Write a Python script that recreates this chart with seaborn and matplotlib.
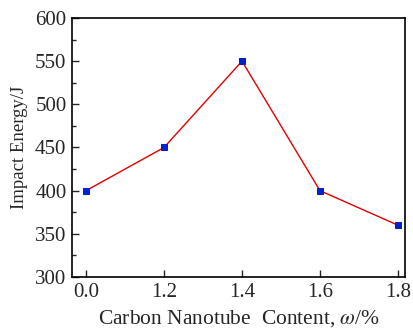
import matplotlib
matplotlib.use("Agg")
import matplotlib.pyplot as plt
from matplotlib.ticker import MultipleLocator
import seaborn as sns
import pandas as pd

categories = ["0.0", "1.2", "1.4", "1.6", "1.8"]
impact_energy = [400, 450, 550, 400, 360]

sns.set_style("ticks")
plt.rcParams['font.family'] = ['Liberation Serif', 'DejaVu Serif']
plt.rcParams['mathtext.fontset'] = 'stix'

df = pd.DataFrame({"pos": range(len(categories)), "energy": impact_energy})

fig = plt.figure(figsize=(4.14, 3.29), dpi=100)
ax = fig.add_axes([72/414, 1 - 277/329, (405-72)/414, (277-18)/329])
sns.lineplot(data=df, x="pos", y="energy", ax=ax, color="#e00000", linewidth=1.0,
             marker="s", markersize=5, markerfacecolor="#0022cc", markeredgecolor="#0022cc")
ax.set_xlim(-0.18, 4.09)
ax.set_ylim(300, 600)
ax.set_xticks(range(len(categories)))
ax.set_xticklabels(categories)
ax.yaxis.set_major_locator(MultipleLocator(50))
ax.yaxis.set_minor_locator(MultipleLocator(25))
ax.tick_params(which="both", direction="in", top=False, right=False, labelsize=15, pad=4)
ax.tick_params(which="major", length=5, width=1)
ax.tick_params(which="minor", length=3, width=1)
for s in ax.spines.values():
    s.set_linewidth(1.2)
    s.set_color("black")
ax.set_xlabel("Carbon Nanotube  Content, $\\omega$/%", fontsize=15.5, labelpad=4.5)
ax.set_ylabel("Impact Energy/J", fontsize=13.5, labelpad=5)
fig.savefig("out.png", dpi=100)
